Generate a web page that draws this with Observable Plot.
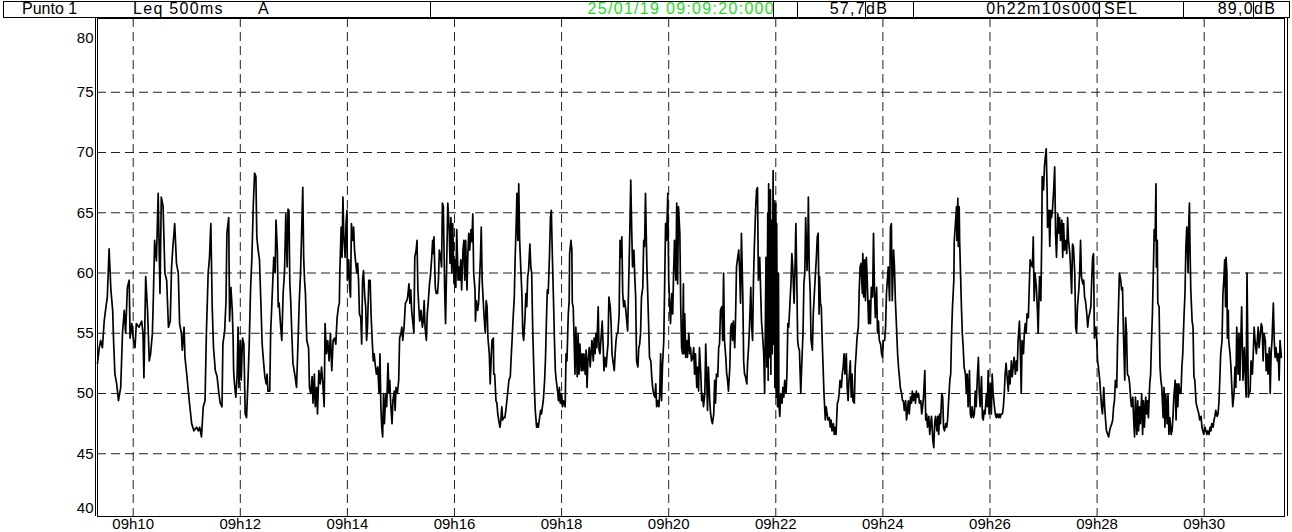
<!DOCTYPE html>
<html><head><meta charset="utf-8">
<script src="https://cdn.jsdelivr.net/npm/d3@7"></script>
<script src="https://cdn.jsdelivr.net/npm/@observablehq/plot@0.6"></script>
<style>
html,body{margin:0;padding:0;background:#fff;}
body{width:1292px;height:532px;overflow:hidden;font-family:"Liberation Sans",Arial,sans-serif;}
#hdr{position:relative;width:1292px;height:18px;}
.cell{position:absolute;top:1px;height:17px;box-sizing:border-box;border:1px solid #000;background:#fff;}
.txt{position:absolute;top:0px;font-size:16px;line-height:18px;white-space:nowrap;color:#000;}
.val{letter-spacing:1.3px;}
#chart svg{display:block;}
</style></head><body>
<div id="hdr"></div>
<div id="chart"></div>
<script>
// ---------- header texts ----------
const headerPoint = "Punto 1";
const headerIndex = "Leq 500ms";
const headerWeighting = "A";
const headerStart = "25/01/19 09:09:20:000";
const headerLeq = "57,7";
const headerDuration = "0h22m10s000";
const headerSelLabel = "SEL";
const headerSel = "89,0";
const headerUnit = "dB";

// ---------- axes ----------
const startClock = [2019, 0, 25, 9, 9, 20];
const durationSec = 1330; // 0h22m10s
const yTickValues = [40, 45, 50, 55, 60, 65, 70, 75, 80];
const yGridValues = [45, 50, 55, 60, 65, 70, 75];
const xTickClock = ["09:10","09:12","09:14","09:16","09:18","09:20","09:22","09:24","09:26","09:28","09:30"];

// ---------- Leq 500ms trace: [seconds after 09:09:20, dB(A)] ----------
const leqSamples = [
[0,52.5],[2,53.8],[3.5,54.4],[5.5,53.8],[7.5,56],[9.5,57.2],[11,58],[13,62],[15,58.6],[17,56.9],[18,54.4],[19.5,51.6],[21.5,50.8],[23.5,49.4],[26,50.5],[28,55],[30,56.9],[31.5,55],[33.5,58.8],[35.5,59.4],[36.5,54.6],[38.5,55.8],[40,54.6],[42,53.8],[43.5,55.8],[46.5,55.5],[49.5,56],[51,55],[52,51.3],[54,59.7],[56,57],[58,52.7],[59.5,53.3],[61.5,55],[62.5,57.7],[64,62.7],[66,61],[68,66.6],[70,58.3],[71.5,66.3],[73.5,65.5],[75.5,60],[77.5,59.4],[79.5,55.5],[81.5,56],[83,60.5],[84.5,62.2],[86.5,64.1],[88.5,60.8],[90.5,60],[92,55.8],[94,55],[95,53.6],[97,55.5],[98,53],[100,51.6],[102,50],[103.5,48.9],[105.5,47.5],[108,46.9],[111,47.2],[113,46.9],[114.5,47.2],[116.5,46.4],[118.5,48.9],[120.5,49.4],[122,55],[124,60],[125.5,61.3],[127,64.1],
[128.5,57.2],[130,53.8],[132,51.9],[134,51.4],[136,50],[137.5,49.2],[139.5,48.9],[140.5,54.1],[142.5,55.2],[144,57.7],[145,63.3],[147,64.6],[148,56],[149.5,58.8],[151,56.9],[152,54.4],[152.5,51.9],[153.5,50.8],[155,49.7],[156.5,51.6],[157.5,55.5],[158.5,50.5],[160,54.4],[161,51.1],[162.5,54.6],[164,54.1],[165.5,48.3],[167,48],[168.5,50.8],[170,54.1],[171.5,58.6],[173,61.3],[174.5,65.5],[176,68.3],[177.5,68],[178.5,63],[180,61.9],[181.5,61.1],[183,57.7],[184.5,54.1],[186,52.7],[187.5,51.4],[189,50.8],[190,51.6],[191,50.2],[193,50.2],[194,55],[195.5,57.7],[197.5,61.3],[199,60],[200,64.4],[201.5,61.9],[202.5,57.2],[203.5,57.5],[205,55.8],[206.5,54.4],[208,58.3],[209.5,60],[211,64.9],[212.5,60.5],[213.5,65.3],[214.5,65.2],[215.5,59.1],[216.5,57.7],[218,54.4],[219,52.5],[221,51.6],[223,50.5],[224.5,53.8],[226,57.5],[227.5,60],[228.5,62.7],[230,67.1],[231,61.3],[232,59.4],[233,58.3],[234.5,54.4],[236.5,53.8],[237.5,50.5],[239,50],[240.5,51.4],[241.5,49.2],[243,51.6],[244,48.9],[245.5,50.5],[246.5,48.3],[248,51.9],[249.5,50.8],[251,52.2],[252.5,50.8],[254,48.9],[255,55.8],[256.5,53.3],[258,54.4],
[259.5,52.7],[261,55],[262.5,51.9],[264,54.4],[265.5,54.6],[267,54.1],[268.5,56.3],[270,57.2],[271,57.5],[271.5,60],[273,63.8],[274,61.3],[275,66.3],[276,63],[277.5,61.3],[278.5,64.1],[279.5,65.2],[280,59.4],[281.5,61.1],[282.5,58.8],[283.5,58],[284.5,64.1],[286,62.7],[287,63.8],[288,61.9],[289,61.1],[290.5,60],[291.5,60.8],[292.5,59.4],[293.5,56.6],[295,56.3],[296,54.1],[297,59.4],[298,60.2],[299.5,58],[300.5,57.2],[301.5,54.4],[302.5,55.5],[304,59.4],[305.5,59.4],[306.5,56.6],[308,54.1],[309,52.7],[310,53.3],[311.5,52.2],[312.5,51.6],[314,52.2],[315.5,50],[316.5,53.3],[317.5,48.9],[318.5,47.2],[319.5,46.4],[320.5,50],[321.5,47.5],[323,50],[324,48.9],[325.5,52.5],[326.5,50],[327.5,51.1],[328.5,49.2],[330,47.5],[331,49.4],[332.5,50.2],[333.5,48.6],[334.5,50.5],[336,50],[337.5,51.1],[338.5,54.6],[340,55],[341,55.5],[342,54.4],[343.5,55.5],[345,57.5],[346.5,57.7],[347.5,58],[349,59.1],[350,57.5],[351,58.6],[352,56.9],[353.5,55.8],[354.5,55],[355.5,61.3],[357,61.9],[358,62.7],[359,58.6],[360,57.2],[361,56],[362.5,56.9],[364,55.5],[365,56],[366,57.7],[367,55.5],[368.5,54.4],[369.5,56.6],[370.5,57.5],[372,59.1],[373,59.7],[374.5,61.3],[375.5,62.7],[376.5,61.6],[377,63],[378.5,58.8],[379.5,58.3],[381,58.3],[382,59.4],[383,61.9],[384.5,61.3],[385.5,60.5],[386.5,65.8],[387.5,65.5],[389,58.6],[390,55.8],
[392.5,65.8],[394,63.8],[395,60.8],[396,64.6],[397,60],[398,64.1],[399.5,59.1],[400.5,61.1],[401.5,58.8],[402.5,63.6],[404,59.4],[405,60.5],[406,59.4],[407,61.1],[408,58.6],[409.5,61.9],[410.5,62.7],[411.5,59.4],[412.5,62.7],[414,58.6],[415,61.6],[416,63.3],[417,61.9],[418.5,63.6],[419.5,62.6],[420.5,64.9],[421.5,60],[423,58.6],[423.5,56],[424.5,57.7],[426,56.9],[427,57.5],[428,59.4],[429,61.1],[430,63.8],[431,59.4],[432,58],[433,56.6],[434.5,55],[435.5,57.7],[436.5,57.2],[437.5,54.6],[439,53.3],[440,50.8],[441,52.7],[442,54.4],[443.5,54.6],[444,51.6],[445,51.6],[446.5,49.4],[447.5,49.2],[448.5,48.3],[449.5,47.8],[451,47.2],[452,47.8],[453,48.9],[454,47.8],[455,48],[456.5,48],[458,48.9],[459.5,50],[461,51.1],[462.5,51.4],[463.5,53],[464.5,54.4],[465.5,56],[467,58],[468,61.3],[469,63.8],[470,66.6],[471,62.7],[472,67.4],[473,62.7],[474.5,60],[475.5,58.3],[476.5,55],[477.5,54.4],[479,56.3],[480,58.3],[481,57.2],[482,59.7],[483,60.2],[484.5,62.4],[485.5,60.5],[486.5,60],[487.5,55.8],[488.5,53],[489.5,50.5],[490.5,48.6],[492,47.2],[493,47.5],[494,47.2],[495,47.8],[496.5,48.6],[497.5,48.3],[498.5,48.9],[499.5,49.4],[501,51.1],[502,53],[503,56],[504,58.6],[505,58.3],[506.5,61.6],[507.5,64.6],[508.5,65.2],[509.5,61.9],[511,57.5],[512,54.4],[513,51.9],[514,51.1],[515.5,50.2],[516.5,49.4],[517.5,50.5],[518.5,49.2],[520,50],[521,48.9],[522,49.4],
[524,48.9],[525,53.3],[526,52.7],[527.5,56.6],[528.5,57.7],[529,61.6],[530.5,62.7],[531.5,61.9],[532,57.5],[533,57.2],[534,54.6],[535,51.6],[536,55.5],[537.5,51.4],[538.5,55],[539.5,51.6],[540.5,54.1],[542,51.9],[543,53.3],[544,51.9],[545,53.3],[546.5,51.6],[547.5,53.6],[548.5,50.5],[549.5,52.7],[551,53.8],[552,52.2],[553,53.3],[554,54.4],[555.5,52.7],[556.5,54.6],[557.5,53.3],[558.5,55],[559.5,53.8],[561,57.2],[562,53.6],[563,53.3],[564,54.4],[565.5,56],[566.5,54.1],[567.5,51.9],[568.5,53],[570,52.2],[571,53.3],[572,54.1],[573,58],[574.5,57.2],[575.5,55.8],[576.5,53.3],[577.5,52.7],[579,51.9],[580,53.3],[581,54.4],[582,55],[583,55],[584.5,56.6],[585.5,62.7],[586.5,61.3],[587.5,63],[588.5,58.3],[589.5,57.2],[590.5,57.7],[592,56.9],[593,56],[594,55.2],[595,58.6],[596.5,63.6],[597.5,67.7],[598.5,63.8],[599.5,60.5],[601,61.9],[602,59.7],[603,58],[604,52.7],[605.5,52.2],[606.5,53.8],[607.5,54.1],[608.5,55],[609.5,58],[611,58.8],[612,62.7],[613,62.2],[614,66.6],[615.5,60.8],[616.5,58.3],[617.5,55.8],[618.5,53],[620,52.7],[621,51.4],[622,50.5],[623,50],[624.5,49.7],[625.5,50.8],[626.5,48.9],[627.5,49.4],[629,48.9],[630,50],[631,53.3],[632,49.4],[633,52.2],[634.5,54.4],[635.5,59.1],[636.5,64.1],[637.5,62.7],[639,66.6],[640,59.4],[641,57.7],[642,55.8],[643.5,58.3],[644.5,56.6],[645.5,60],[646.5,62.7],[648,59.4],[649,65.8],[650,59.1],[651,65.5],[652.5,63.3],[653.5,57.2],[654.5,53.8],[655.5,53.3],[656.5,59.1],
[657,53.3],[658,56.6],[659,53],[660,54.4],[661,53],[662.5,55],[663.5,53.3],[664.5,53.8],[665.5,52.7],[667,53],[668,53.8],[669,51.6],[670,53.3],[671.5,50.5],[672.5,52.2],[673.5,50.2],[674.5,53.8],[676,51.6],[677,49.4],[678,50],[679,48.9],[680.5,50],[681.5,54.1],[682.5,51.6],[683.5,48.6],[684.5,52.2],[686,49.4],[687,48.3],[688,47.8],[689,47.5],[690.5,48.3],[691.5,51.1],[692.5,49.2],[693.5,51.6],[695,51.4],[696,53.8],[697,54.1],[698,56.9],[699.5,57.2],[700.5,54.4],[701.5,60],[702.5,54.4],[704,53],[705,51.6],[706,51.1],[707,50.2],[708.5,52.2],[709.5,55.5],[710.5,55.8],[711.5,54.4],[712.5,56],[714,53.8],[715,56.6],[716,60.5],[717,61.1],[718.5,61.9],[719.5,60.2],[720.5,57.5],[721.5,63.3],[723,58.3],[724,52.7],[725,51.6],[726,51.4],[727.5,50.8],[728.5,52.7],[729.5,53.8],[730.5,55.5],[732,58.8],[733,55.5],[734,54.4],[735,59.4],[736,62.2],[737.5,65.5],[738.5,66.9],[739.5,67.1],[740.5,59.4],[742,61.3],[743,58.6],[744,56],[745,55],[746.5,53.3],[747.5,50],[748.5,57.2],[749,61.3],[750,52.2],[751,65],[751.5,51.1],[752,67.4],[753,53],[754,66.9],[754.5,51.6],[755,64.4],[756,53.3],[757,68.5],[757.5,54.1],[758,66],[759,50.5],[760,65.8],[760.5,49.7],[761,64.1],[762,48.9],[763,60],[763.5,49.2],[764.5,48.1],[765.5,50],[767,49.2],[768,50.5],[769,49.7],[770,51.1],[771.5,50],[772.5,51.6],[773.5,55.8],[774.5,55.5],[776,57.7],[777,59.1],[778,61.6],[779,60.5],[780.5,57.5],[781.5,60.2],[782.5,64.1],[783.5,59.7],[784.5,54.4],[785.5,53.8],[786.5,53.6],
[788,50],[789,52.2],[790.5,55],[791.5,59.1],[792.5,60],[793.5,64.6],[795,60.2],[796,62.9],[796.5,66.3],[797.5,60.2],[798.5,58.6],[799.5,54.4],[801,53.6],[802,56.6],[803,58],[804,59.4],[805.5,61.3],[806.5,63],[807.5,63.3],[808.5,56.6],[809,59.7],[810,57.5],[811,57.2],[812,54.4],[813,52.2],[814,50],[815.5,47.8],[816.5,48.9],[817.5,48.3],[818.5,47.8],[820,48],[821,47.2],[822,47.8],[823,46.9],[824.5,47.5],[825.5,46.6],[826.5,47.2],[827.5,46.6],[829,49.2],[830,49.4],[831,50],[832,51.1],[833.5,50.5],[834.5,51.6],[835.5,52.2],[836.5,53.3],[837.5,51.6],[839,53.3],[840,50.5],[841,49.4],[842,51.1],[843.5,52.7],[844.5,49.7],[845.5,51.6],[846.5,49.4],[848,49.2],[849,52.2],[850,53.3],[851,54.6],[852.5,55.5],[853.5,58.6],[854.5,60.5],[855.5,60.8],[857,58.3],[857.5,61.6],[858.5,58],[859.5,61.1],[860.5,57.7],[861.5,61.3],[862.5,59.4],[864,55.8],[865,57.7],[866,55.8],[867,58.8],[868.5,58],[869.5,63.3],[870.5,58.8],[871.5,56.3],[873,58.8],[874,55],[875,56],[876,54.4],[877.5,54.1],[878.5,53.3],[879.5,53],[880.5,54.4],[882,54.4],[883,55.5],[884,58.3],[885,59.4],[886,60.5],[887.5,57.7],[888.5,63.8],[889.5,64.1],[890.5,57.7],[892,61.9],[893,60.5],[894,57.7],[895,56],[896.5,53.3],[897.5,52.2],[898.5,51.4],[899.5,50.5],[901,50],[902,49.4],[903,49.4],[904,48.6],[905.5,49.4],[906.5,47.8],[907.5,48.6],[908.5,49.4],[909.5,48.3],[911,49.7],[912,49.2],[913,50.2],[914,49.4],[915.5,50],[916.5,49.2],[917.5,50.2],[918.5,49.7],
[920,50],[921,49.2],[922.5,49.4],[923.5,48.3],[924.5,48.9],[925.5,49.7],[927,51.9],[928,47.8],[929,48.3],[930,47.2],[931.5,48.1],[932.5,46.6],[933.5,47.5],[934.5,48.1],[936,46.1],[937,45.5],[938,47.5],[939,48.1],[940.5,46.9],[941.5,48.1],[942.5,46.6],[943.5,48.3],[944.5,47.5],[946,50],[947,49.7],[948,47.2],[949,46.9],[950.5,47.5],[951.5,47.2],[952.5,47.8],[953.5,49.2],[955,51.1],[956,51.6],[957,55],[958,57.2],[959.5,59.4],[960,62.7],[961,63.8],[962.5,65.5],[963,62.7],[964,66.2],[964.5,62.2],[965.5,65.5],[966,62.7],[967,60],[968,57.2],[969,55],[970,53.8],[971,52.2],[972.5,51.6],[973.5,50],[974.5,51.6],[975.5,48.9],[977,51.9],[978,48.3],[979,48],[980,48.9],[981.5,48],[982.5,48.3],[983.5,50.2],[984.5,48.9],[986,51.6],[987,53],[988,50],[989,48.9],[990.5,51.4],[991.5,48],[992.5,47.8],[993.5,48.6],[994.5,48.3],[996,50],[997,48.9],[998,51.9],[999,48.3],[1000.5,50.8],[1001.5,48.3],[1002.5,51.6],[1003.5,50],[1005,48.9],[1006,48.3],[1007,48],[1008,48.3],[1009.5,48],[1010.5,48.3],[1011.5,48],[1012.5,48.3],[1014,48.3],[1015,48.9],[1016,50],[1017,51.6],[1018,52.5],[1019.5,51.1],[1020.5,50.2],[1021.5,51.9],[1022.5,50.8],[1024,52.7],[1025,51.4],[1026,52.2],[1027,53],[1028.5,51.6],[1029.5,52.7],[1030.5,51.9],[1031.5,54.4],[1033,56],[1034,53.8],[1035,50],[1036,54.4],[1037.5,53.3],[1038.5,55],[1039.5,55.8],[1040.5,55],[1041.5,56.6],[1043,56.3],[1044,58.8],[1045,61.1],[1046,60.8],[1047.5,60.5],[1048.5,63],[1049.5,57.7],[1050.5,60],[1052,58.8],[1053,57.2],[1054,55],
[1055.5,59.7],[1057,57.7],[1058,63],[1058.5,68],[1060,66.9],[1061,68.8],[1062,69.6],[1063,70.3],[1064,66.9],[1064.5,63.8],[1066,65.2],[1067,62.2],[1068,65.2],[1069,64.6],[1070,65.2],[1071.5,67.1],[1072.5,68.8],[1073.5,63.3],[1074.5,61.3],[1076,64.9],[1077,63.3],[1078,64.6],[1079,62.7],[1080.5,64.4],[1081.5,61.3],[1082.5,64.1],[1083.5,61.9],[1085,62.7],[1086,61.6],[1087,64.6],[1088,62.7],[1089.5,61.6],[1090.5,60],[1091.5,58.3],[1092.5,62.4],[1093.5,62.2],[1095,60],[1096,55.5],[1097,55],[1098,57.2],[1099.5,58.6],[1100.5,60],[1101.5,62.7],[1102.5,59.7],[1104,59.1],[1105,59.4],[1106,58],[1107,57.7],[1108.5,56.6],[1109.5,55.5],[1110.5,56.3],[1111.5,56.6],[1113,57.2],[1114,59.4],[1115,61.3],[1116,61.6],[1117,54.6],[1118.5,55.5],[1119.5,54.6],[1120.5,52.7],[1121.5,52.2],[1123,51.1],[1124,50],[1125,48.9],[1126,48.3],[1127.5,50.5],[1128.5,48.9],[1129.5,47.8],[1130.5,46.9],[1132,46.6],[1133,46.4],[1134,46.9],[1135,47.2],[1136.5,47.5],[1137.5,47.8],[1138.5,48.9],[1139.5,49.4],[1140.5,51.1],[1142,50.5],[1143,54.4],[1144,57.2],[1145,60],[1146.5,59.4],[1147.5,58.6],[1148.5,58.8],[1149.5,55.2],[1151,51.1],[1152,56.3],[1153,55],[1154,51.6],[1155.5,51.4],[1156.5,50.8],[1157.5,49.7],[1158.5,48.9],[1160,49.7],[1161,47.8],[1162,46.4],[1163,49.7],[1164.5,46.6],[1165.5,49.4],[1166.5,46.9],[1167.5,48.9],[1168.5,47.5],[1170,50],[1171,46.6],[1172,49.4],[1173,47.2],[1174.5,49.7],[1175.5,48.3],[1176.5,49.4],[1177.5,48],[1179,50.8],[1180,51.6],[1181,54.4],[1182,56.6],
[1183,60],[1184,63.6],[1185,62.7],[1186,67.4],[1186.5,60.5],[1187.5,62.7],[1188,57.5],[1189.5,57.2],[1190.5,52.2],[1191.5,51.1],[1192.5,50.5],[1194,48],[1195,50.5],[1196,47.2],[1197,49.9],[1198.5,47.5],[1199.5,49.9],[1200.5,46.6],[1201.5,48],[1203,46.6],[1204,46.9],[1205,48],[1206,49.7],[1207.5,51.1],[1208.5,47.8],[1209.5,50.8],[1210.5,48.9],[1211.5,50.8],[1213,50],[1214,50],[1215,52.2],[1216,53.3],[1217.5,56.6],[1218.5,58.3],[1219.5,62.2],[1220.5,63.8],[1222,60],[1222.5,63.6],[1223.5,65.8],[1224,62.7],[1225,58.6],[1226.5,56],[1227.5,55.5],[1228.5,51.4],[1229.5,51.1],[1231,49.2],[1232,48.9],[1233,48.6],[1234,48.3],[1235,47.8],[1236.5,48.1],[1237.5,47.2],[1238.5,46.9],[1239.5,46.6],[1241,47.2],[1242,46.9],[1243,46.6],[1244,46.9],[1245.5,46.6],[1246.5,47.2],[1247.5,46.9],[1248.5,47.5],[1250,47.2],[1251,47.8],[1252,48.1],[1253,48.6],[1254.5,48.1],[1255.5,48.3],[1256.5,49.2],[1257.5,51.1],[1258.5,53.3],[1260,54.4],[1261,58.3],[1262,59.4],[1263,61.1],[1264,57.2],[1264.5,61.3],[1265.5,60],[1266,54.6],[1267,56.9],[1267.5,54.4],[1269,53.3],[1270,52.2],[1271,50.5],[1272,48.9],[1273.5,50],[1274.5,52.2],[1275.5,50.5],[1276.5,55.5],[1278,51.6],[1279,55],[1280,51.1],[1281,54.4],[1282,57.2],[1283,53],[1283.5,51.1],[1285,53.8],[1286,51.6],[1287,49.7],[1288,60],[1289.5,49.7],[1290.5,50],[1291.5,50.2],[1292.5,52.7],[1294,51.6],[1295,53.3],[1296,55.5],[1297,54.4],[1298.5,53.3],[1299.5,54.4],[1300.5,55.5],[1301.5,53.8],[1303,55],[1304,55.8],[1305,55.5],[1306,52.7],[1307,55],[1308.5,54.4],[1309.5,51.9],[1310.5,53.3],[1311.5,51.6],[1313,53.8],[1314,50],[1315,53.3],[1316,54.4],[1317.5,57.5],[1318.5,54.4],[1319.5,53],[1320.5,53.8],[1322,52.7],[1323,53.3],[1324,51.1],[1325,54.4],[1326.5,53]
];

// ---------- header ----------
const hdr = document.getElementById("hdr");
function cell(l, r) {
  const d = document.createElement("div");
  d.className = "cell"; d.style.left = l + "px"; d.style.width = (r - l + 1) + "px";
  hdr.appendChild(d);
}
function txt(s, pos, align, color, cls) {
  const d = document.createElement("div");
  d.className = "txt" + (cls ? " " + cls : ""); d.textContent = s;
  if (align === "right") d.style.right = (1292 - pos) + "px"; else d.style.left = pos + "px";
  if (color) d.style.color = color;
  hdr.appendChild(d);
}
cell(3, 430); cell(430, 773); cell(773, 797); cell(797, 865); cell(865, 913);
cell(913, 1099); cell(1099, 1183); cell(1183, 1253); cell(1253, 1289);
txt(headerPoint, 22, "left");
txt(headerIndex, 133, "left", null, "val");
txt(headerWeighting, 258, "left");
txt(headerStart, 775, "right", "#22dd22", "val");
txt(headerLeq, 866, "right", null, "val");
txt(headerUnit, 866, "left", null, "val");
txt(headerDuration, 1102, "right", null, "val");
txt(headerSelLabel, 1104, "left", null, "val");
txt(headerSel, 1254, "right", null, "val");
txt(headerUnit, 1254, "left", null, "val");

// ---------- chart ----------
const t0 = new Date(...startClock);
const atSec = s => new Date(t0.getTime() + s * 1000);
const tEnd = atSec(durationSec);
const data = leqSamples.map(([s, v]) => ({time: atSec(s), leq: v}));
const xTicks = xTickClock.map(c => { const [h, m] = c.split(":").map(Number); return new Date(startClock[0], startClock[1], startClock[2], h, m, 0); });
const fmt = d3.timeFormat("%Hh%M");

const W = 1292, H = 514;
const pxPerDb = 12.05;
const yTop = 80 + 13.5 / pxPerDb;     // frame top sits a little above 80 dB
const yBottom = 40 - 2.5 / pxPerDb;   // frame bottom a little under 40 dB

const chart = Plot.plot({
  width: W, height: H,
  marginLeft: 97, marginRight: 8, marginTop: 0, marginBottom: 16,
  style: {fontFamily: "'Liberation Sans', Arial, sans-serif", fontSize: "15px", color: "#000", background: "#fff", overflow: "visible"},
  x: {type: "time", domain: [t0, tEnd], axis: null},
  y: {domain: [yBottom, yTop], axis: null},
  marks: [
    Plot.ruleY(yGridValues, {stroke: "#222", strokeWidth: 1, strokeDasharray: "9,5"}),
    Plot.ruleX(xTicks, {stroke: "#222", strokeWidth: 1, strokeDasharray: "9,5"}),
    Plot.line(data, {x: "time", y: "leq", stroke: "#000", strokeWidth: 1.7, curve: "linear"}),
    Plot.frame({stroke: "#000", strokeWidth: 1}),
    Plot.ruleX([t0], {stroke: "#000", dx: -2}),
    Plot.ruleX([tEnd], {stroke: "#000", dx: 3}),
    Plot.text(yTickValues.filter(v => v > 40 && v < 80), {x: t0, y: d => d, text: d => String(d), textAnchor: "end", dx: -4, fill: "#000"}),
    Plot.text([80], {x: t0, y: d => d, text: d => String(d), textAnchor: "end", dx: -4, dy: 6, fill: "#000"}),
    Plot.text([40], {x: t0, y: d => d, text: d => String(d), textAnchor: "end", dx: -4, dy: -6, fill: "#000"}),
    Plot.text(xTicks, {x: d => d, frameAnchor: "bottom", text: d => fmt(d), lineAnchor: "top", dy: 2, fill: "#000"})
  ]
});
document.getElementById("chart").appendChild(chart);
</script>
</body></html>
